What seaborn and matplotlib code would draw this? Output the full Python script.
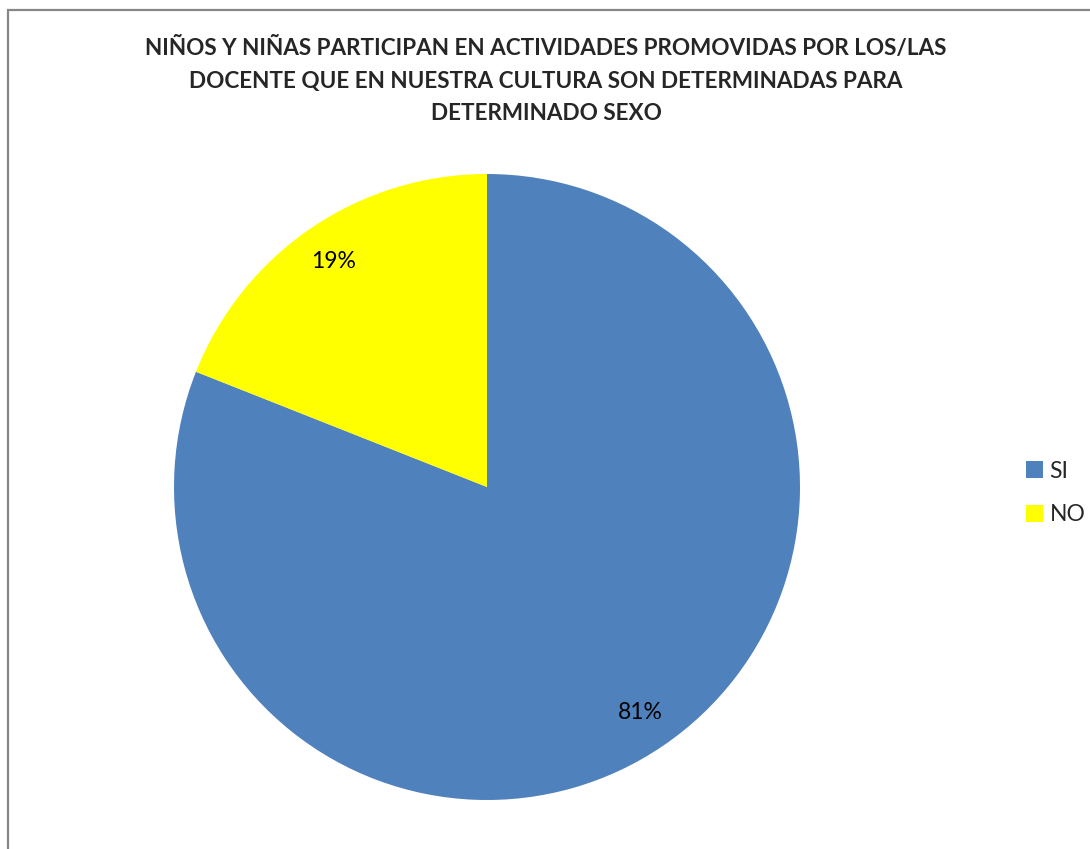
import matplotlib
matplotlib.use("Agg")
import matplotlib.pyplot as plt
from matplotlib.patches import Rectangle
import seaborn as sns

# data
labels = ["SI", "NO"]
values = [81, 19]
colors = ["#4F81BD", "#FFFF00"]
title = ("NIÑOS Y NIÑAS PARTICIPAN EN ACTIVIDADES PROMOVIDAS POR LOS/LAS\n"
         "DOCENTE QUE EN NUESTRA CULTURA SON DETERMINADAS PARA\n"
         "DETERMINADO SEXO")

sns.set_theme(style="white")
plt.rcParams['font.family'] = ['Lato', 'DejaVu Sans']

fig = plt.figure(figsize=(10.9, 8.49), dpi=100)
W, H = 1090, 849
cx, cy, r = 487, 487, 313
ax = fig.add_axes([(cx - r) / W, 1 - (cy + r) / H, 2 * r / W, 2 * r / H])

wedges, texts, autotexts = ax.pie(values, colors=colors, startangle=90, counterclock=False,
                                  autopct='%1.0f%%', pctdistance=0.87, radius=1,
                                  wedgeprops={'linewidth': 0},
                                  textprops={'fontsize': 16.5, 'color': 'black'})
ax.set_xlim(-1, 1)
ax.set_ylim(-1, 1)
ax.set_aspect('equal')
ax.axis('off')

fig.text(0.501, 1 - 37 / H, title, ha='center', va='top', fontsize=16.2,
         fontweight='bold', linespacing=1.68)

fig.legend(wedges, labels, loc='center left', bbox_to_anchor=(1005 / W, 1 - 493 / H),
           frameon=False, fontsize=16.5, handlelength=0.75, handleheight=0.75,
           handletextpad=0.3, labelspacing=1.0)

# outer chart border (only top and left visible)
fig.add_artist(Rectangle((8 / W, -0.1), 1.2, 1.1 - 10 / H, transform=fig.transFigure,
                         fill=False, ec='#878787', lw=1.6))

plt.savefig("out.png", dpi=100)
